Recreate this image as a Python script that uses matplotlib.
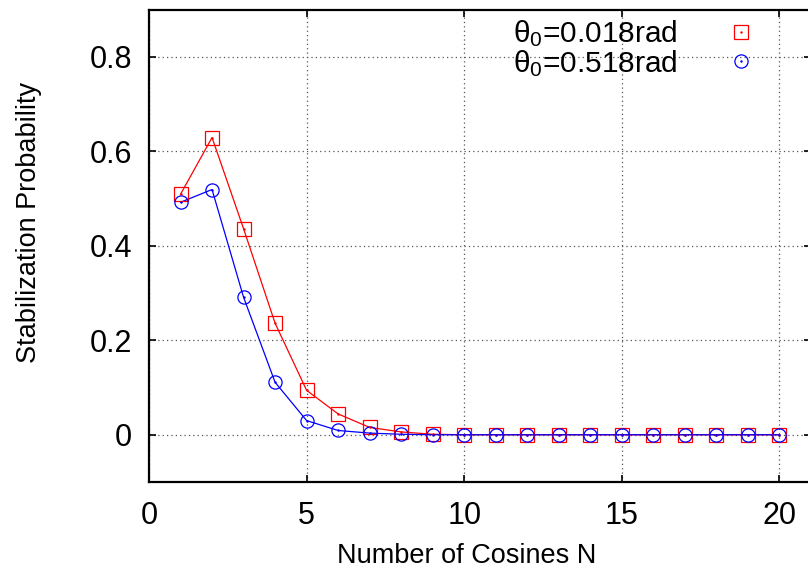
import numpy as np
import matplotlib
matplotlib.use("Agg")
import matplotlib.pyplot as plt
from matplotlib.legend_handler import HandlerTuple

plt.rcParams['font.family'] = ['Liberation Sans', 'DejaVu Sans']
plt.rcParams['mathtext.fontset'] = 'custom'
plt.rcParams['mathtext.rm'] = 'Liberation Sans'
plt.rcParams['mathtext.it'] = 'Liberation Sans'

# stabilization probability vs number of cosines, two initial angles
n_cos = [1, 2, 3, 4, 5, 6, 7, 8, 9, 10, 11, 12, 13, 14, 15, 16, 17, 18, 19, 20]
p_018 = [0.509, 0.629, 0.436, 0.236, 0.094, 0.044, 0.0155, 0.006, 0.001, 0.0,
         0.0, 0.0, 0.0, 0.0, 0.0, 0.0, 0.0, 0.0, 0.0, 0.0]
p_518 = [0.492, 0.519, 0.291, 0.111, 0.030, 0.009, 0.0035, 0.001, 0.0, 0.0,
         0.0, 0.0, 0.0, 0.0, 0.0, 0.0, 0.0, 0.0, 0.0, 0.0]
labels = [r'$\theta_0$=0.018rad', r'$\theta_0$=0.518rad']

fig = plt.figure(figsize=(8.08, 5.76), dpi=100)
ax = fig.add_axes([149 / 808, 1 - 482 / 576, (811 - 149) / 808, (482 - 9.5) / 576])

ax.plot(n_cos, p_018, color='red', lw=0.9, zorder=2)
ax.plot(n_cos, p_518, color='blue', lw=0.9, zorder=2)
sq, = ax.plot(n_cos, p_018, ls='none', marker='s', ms=9.5, mfc='none', mec='red',
              mew=0.9, zorder=3)
ci, = ax.plot(n_cos, p_518, ls='none', marker='o', ms=9.5, mfc='none', mec='blue',
              mew=0.9, zorder=3)
# gnuplot-style center dots
sq_dot, = ax.plot(n_cos, p_018, ls='none', marker='.', ms=1.5, color='red', zorder=3)
ci_dot, = ax.plot(n_cos, p_518, ls='none', marker='.', ms=1.5, color='blue', zorder=3)

ax.set_xlim(0, 21)
ax.set_ylim(-0.1, 0.9)
ax.set_xticks([0, 5, 10, 15, 20])
ax.set_yticks([0, 0.2, 0.4, 0.6, 0.8])
ax.set_yticklabels(['0', '0.2', '0.4', '0.6', '0.8'])
ax.tick_params(direction='in', length=5, width=1.2, labelsize=22, top=True, right=True)
ax.tick_params(axis='y', pad=12)
ax.tick_params(axis='x', pad=14)
ax.grid(True, color='#555555', ls=(0, (1, 2.5)), lw=0.9)
for s in ax.spines.values():
    s.set_linewidth(1.6)

ax.set_xlabel('Number of Cosines N', fontsize=19.5)
ax.set_ylabel('Stabilization Probability', fontsize=19.5)
ax.xaxis.set_label_coords((467 - 149) / 662, (482 - 543) / 472.5)
ax.yaxis.set_label_coords((42 - 149) / 662, 1 - (222.5 - 9.5) / 472.5)

leg = ax.legend([(sq, sq_dot), (ci, ci_dot)], labels,
                handler_map={tuple: HandlerTuple(ndivide=1, pad=0)},
                loc='upper right', frameon=False, markerfirst=False, fontsize=21.5,
                handlelength=1.0, handletextpad=1.64, labelspacing=-0.03,
                borderpad=0, borderaxespad=0)
leg.set_bbox_to_anchor((756 / 808, 1 - 18 / 576), transform=fig.transFigure)
for t in leg.get_texts():
    t.set_ha('right')

fig.savefig('out.png', dpi=100)
